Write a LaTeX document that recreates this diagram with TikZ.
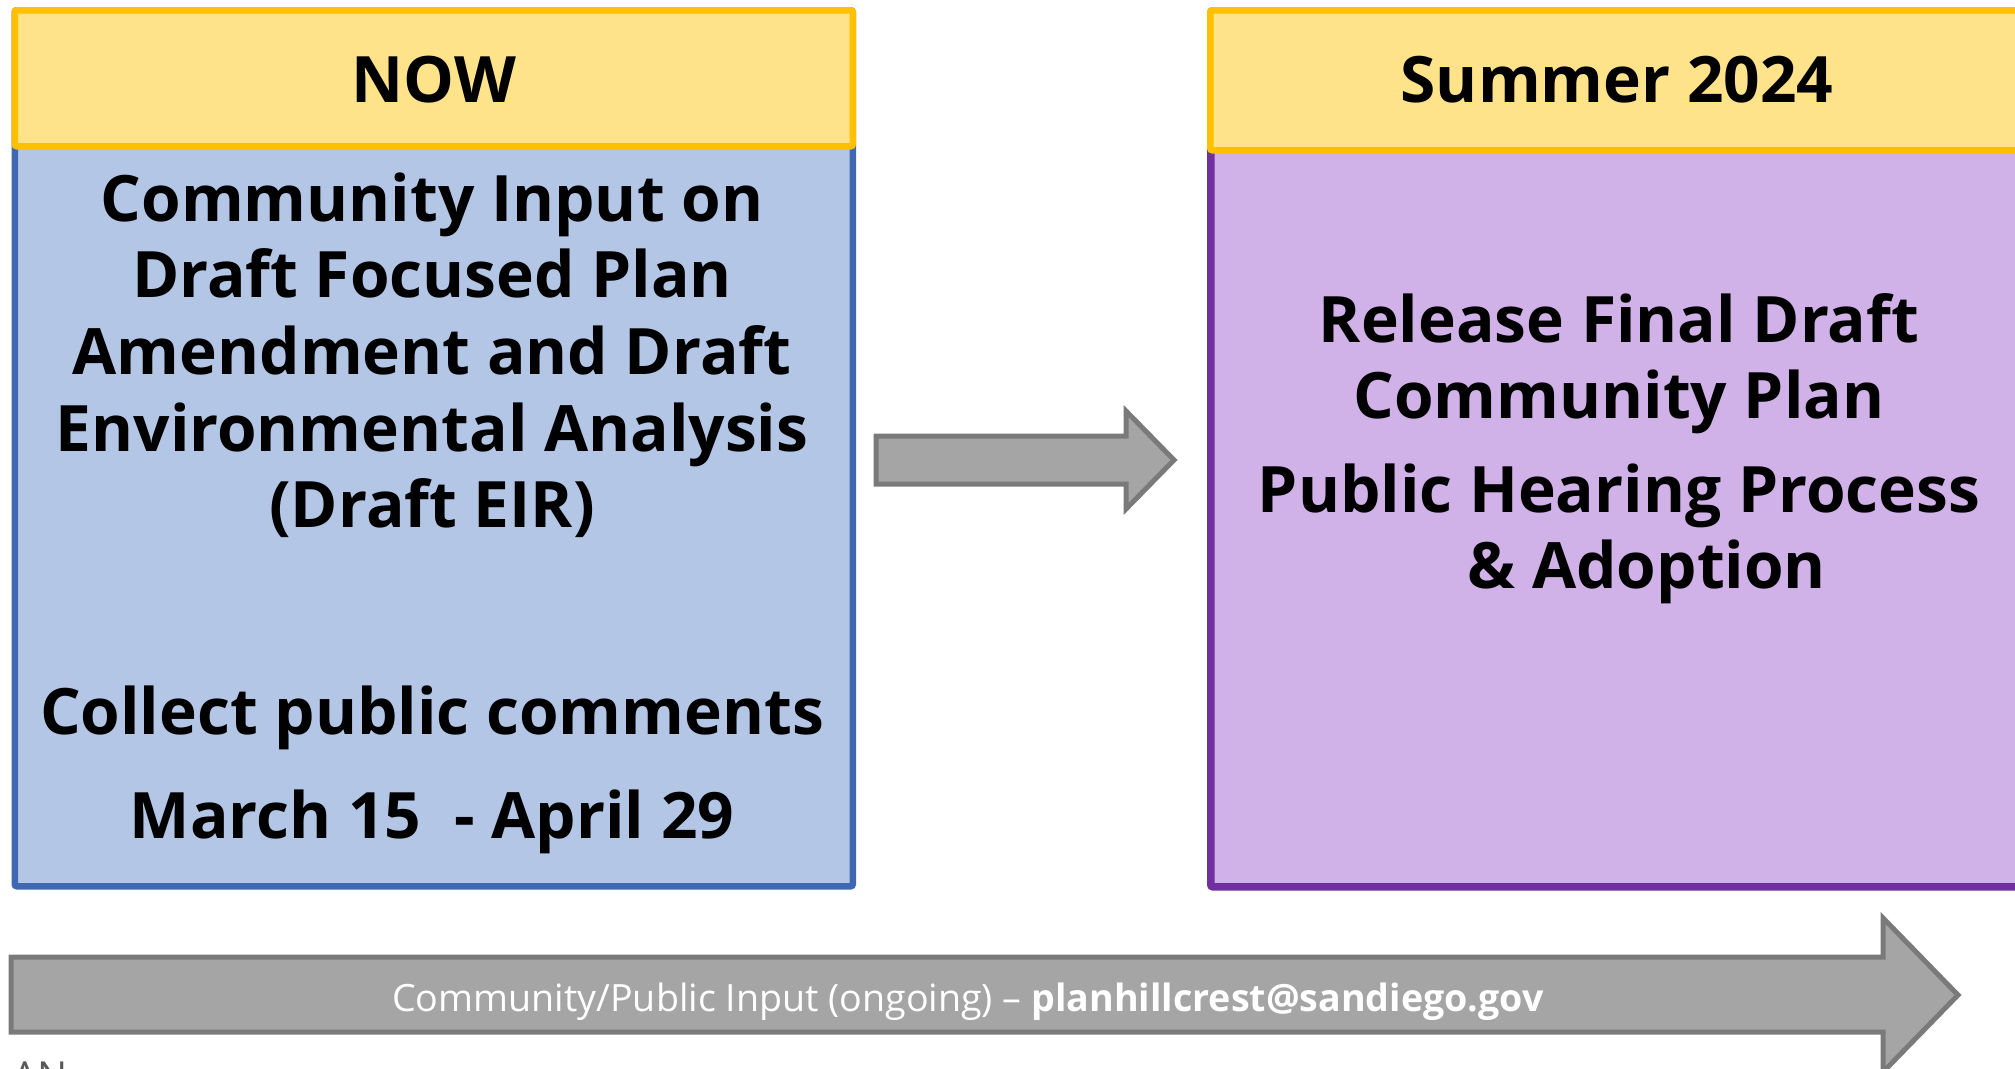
\documentclass[tikz,border=0pt]{standalone}
\usepackage{fontspec}
\setmainfont{Open Sans}
\definecolor{hdrfill}{HTML}{FFE38B}
\definecolor{hdrline}{HTML}{FFC000}
\definecolor{bluefill}{HTML}{B4C6E6}
\definecolor{blueline}{HTML}{4068B2}
\definecolor{purpfill}{HTML}{D0B1E8}
\definecolor{purpline}{HTML}{7030A0}
\definecolor{arrfill}{HTML}{A5A5A5}
\definecolor{arrline}{HTML}{7A7A7A}
\begin{document}
\begin{tikzpicture}[x=1pt,y=-1pt,
  boxbase/.style={rectangle, anchor=north west, inner sep=0pt, rounded corners=2pt},
  hdr/.style={boxbase, fill=hdrfill, draw=hdrline, line width=6.5pt},
  bluebox/.style={boxbase, fill=bluefill, draw=blueline, line width=6.5pt},
  purpbox/.style={boxbase, fill=purpfill, draw=purpline, line width=7.5pt},
  blockarrow/.style={fill=arrfill, draw=arrline, line width=5pt, line join=miter},
  bigtxt/.style={anchor=base, inner sep=0pt, font=\fontsize{64}{76.7}\selectfont\bfseries},
  smalltxt/.style={anchor=base, inner sep=0pt, text=white, font=\fontsize{37.6}{42}\selectfont}
]
\useasboundingbox (0,0) rectangle (2015,1068);
\fill[white] (0,0) rectangle (2015,1068);

% left column
\node[bluebox, minimum width=838pt, minimum height=876pt] (nowbody) at (11.5,7) {};
\node[hdr, minimum width=838pt, minimum height=136pt] (nowhdr) at (11.5,7) {};
% right column
\node[purpbox, minimum width=833pt, minimum height=876pt] (sumbody) at (1207,7) {};
\node[hdr, minimum width=833pt, minimum height=140pt] (sumhdr) at (1207,7) {};

% headers
\node[bigtxt] (nowlbl) at (434,102) {NOW};
\node[bigtxt] (sumlbl) at (1617,102) {Summer 2024};

% left texts
\node[bigtxt] (input) at (432,221) {\begin{tabular}[t]{@{}c@{}}Community Input on\\Draft Focused Plan\\Amendment and Draft\\Environmental Analysis\\(Draft EIR)\end{tabular}};
\node[bigtxt] (collect) at (432,734) {Collect public comments};
\node[bigtxt] (dates) at (432,838) {March 15~~- April 29};

% right texts
\node[bigtxt] (release) at (1619,342) {\begin{tabular}[t]{@{}c@{}}Release Final Draft\\Community Plan\end{tabular}};
\node[bigtxt] (hearing) at (1619,512) {\begin{tabular}[t]{@{}c@{}}Public Hearing Process\\\hspace*{0.87em}\&~Adoption\end{tabular}};

% middle block arrow
\draw[blockarrow] (876,436) -- (1126,436) -- (1126,411) -- (1174,460) -- (1126,509) -- (1126,484) -- (876,484) -- cycle;

% bottom block arrow
\draw[blockarrow] (11,957) -- (1883,957) -- (1883,918) -- (1958,995) -- (1883,1072) -- (1883,1032) -- (11,1032) -- cycle;
\node[smalltxt] (ongoing) at (968,1011) {Community/Public Input (ongoing) -- \textbf{planhillcrest@sandiego.gov}};

% cut-off text at the bottom edge
\node[anchor=north west, inner sep=0pt, text=black!65, font=\fontsize{40}{44}\selectfont] (cut) at (12,1062) {AN};
\end{tikzpicture}
\end{document}
